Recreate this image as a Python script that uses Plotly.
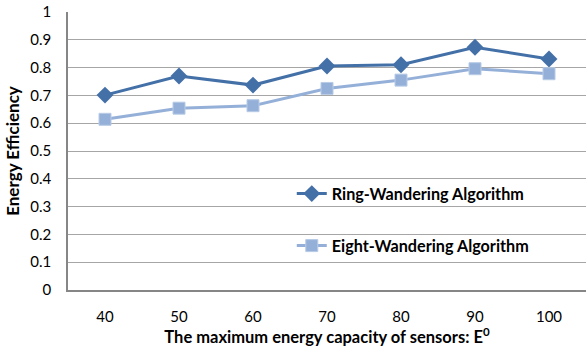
import plotly.graph_objects as go

# Maximum energy capacity of sensors (E0) and energy efficiency of each algorithm
capacity = ["40", "50", "60", "70", "80", "90", "100"]
ring_wandering = [0.701, 0.770, 0.737, 0.806, 0.810, 0.873, 0.831]
eight_wandering = [0.614, 0.654, 0.663, 0.725, 0.755, 0.796, 0.778]

FONT = "Lato"
RING_COLOR = "#4470A8"
EIGHT_COLOR = "#95B0D8"

fig = go.Figure()
fig.add_trace(go.Scatter(
    x=capacity, y=ring_wandering, mode="lines+markers",
    name="Ring-Wandering Algorithm",
    line=dict(color=RING_COLOR, width=3),
    marker=dict(symbol="diamond", size=13, color=RING_COLOR,
                line=dict(color=RING_COLOR, width=0)),
    legend="legend",
))
fig.add_trace(go.Scatter(
    x=capacity, y=eight_wandering, mode="lines+markers",
    name="Eight-Wandering Algorithm",
    line=dict(color=EIGHT_COLOR, width=3),
    marker=dict(symbol="square", size=12, color=EIGHT_COLOR,
                line=dict(color="#B7CBE6", width=1)),
    legend="legend2",
))

legend_style = dict(
    xanchor="left", yanchor="middle", bgcolor="rgba(0,0,0,0)",
    font=dict(family=FONT, size=16.2, color="#000000", weight="bold"),
    itemwidth=30,
)

fig.update_layout(
    width=587, height=351,
    margin=dict(l=68, r=1, t=12, b=61),
    paper_bgcolor="white", plot_bgcolor="white",
    font=dict(family=FONT, size=15, color="#000000"),
    showlegend=True,
    legend=dict(x=0.432, y=0.345, **legend_style),
    legend2=dict(x=0.432, y=0.158, **legend_style),
    xaxis=dict(
        type="category", range=[-0.5, 6.5],
        showgrid=False, showline=True, linecolor="#868686", linewidth=1.5,
        ticks="", tickfont=dict(family=FONT, size=15), ticklabelstandoff=12,
        title=dict(text="<b>The maximum energy capacity of sensors: E<sup>0</sup></b>",
                   font=dict(family=FONT, size=16.5), standoff=7),
    ),
    yaxis=dict(
        range=[0, 1], dtick=0.1, tick0=0,
        showgrid=True, gridcolor="#A6A6A6", gridwidth=1,
        showline=True, linecolor="#868686", linewidth=1.5,
        zeroline=False, ticks="", tickfont=dict(family=FONT, size=15),
        ticklabelstandoff=12,
        title=dict(text="<b>Energy Efficiency</b>",
                   font=dict(family=FONT, size=17), standoff=6),
    ),
)

fig.write_html("out.html")
